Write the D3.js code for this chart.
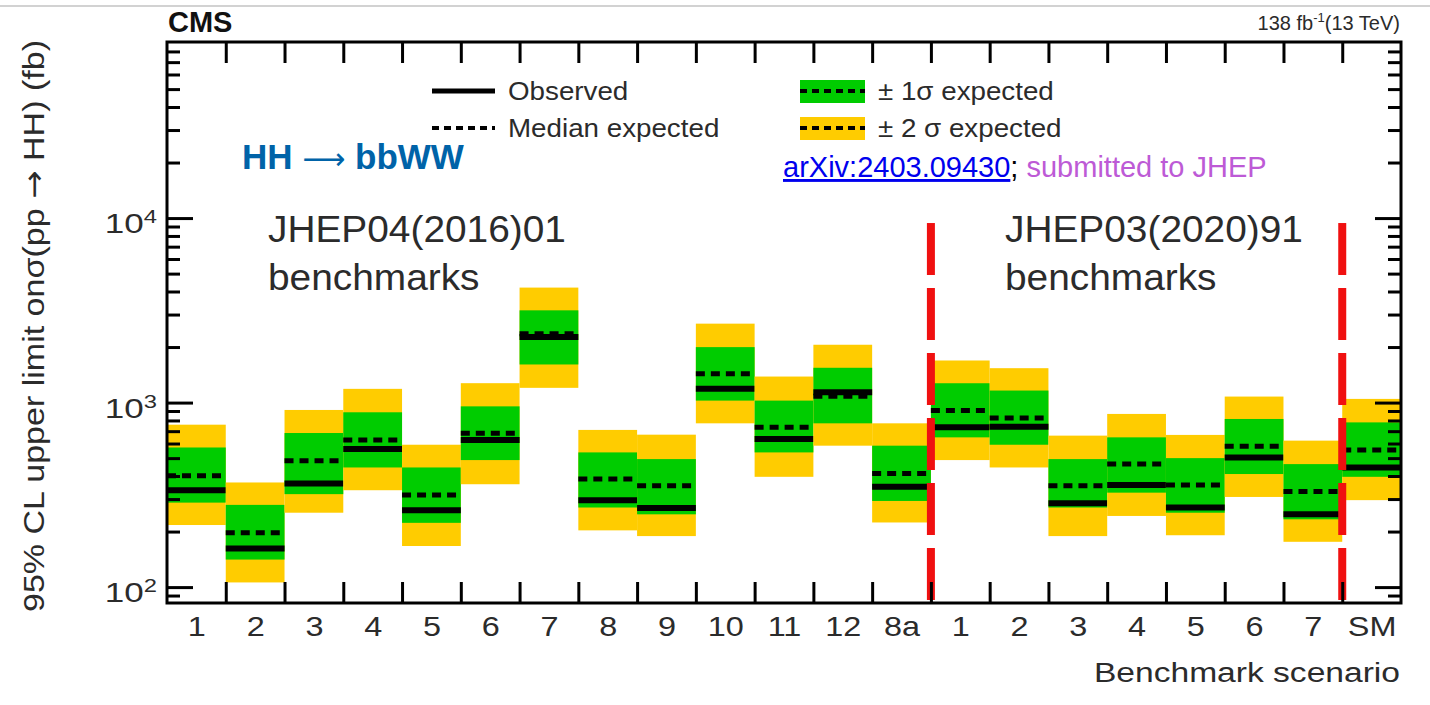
<!DOCTYPE html>
<html>
<head>
<meta charset="utf-8">
<script src="https://cdn.jsdelivr.net/npm/d3@7"></script>
<style>
  body { margin: 0; background: #fff; }
  svg { display: block; font-family: 'Liberation Sans', Arial, sans-serif; }
</style>
</head>
<body>
<div id="chart"></div>
<script>
// benchmark labels, left block = JHEP04(2016)01, right block = JHEP03(2020)91, then SM
const labels = ['1', '2', '3', '4', '5', '6', '7', '8', '9', '10', '11', '12', '8a',
  '1', '2', '3', '4', '5', '6', '7', 'SM'];
// 95% CL upper limits (fb)
const observed = [335, 162, 364, 560, 261, 627, 2264, 296, 268, 1187, 635, 1137, 350,
  734, 740, 285, 357, 270, 504, 248, 445];
const expected = [401, 197, 484, 627, 316, 681, 2362, 385, 354, 1432, 734, 1082, 413,
  905, 826, 354, 464, 358, 579, 330, 553];
const sigma1Lo = [287, 141, 319, 445, 223, 488, 1609, 270, 248, 1025, 537, 772, 293,
  648, 591, 270, 325, 253, 410, 233, 396];
const sigma1Hi = [571, 279, 684, 886, 445, 954, 3162, 537, 494, 1998, 1025, 1544, 584,
  1273, 1162, 494, 648, 500, 815, 464, 781];
const sigma2Lo = [217, 106, 253, 335, 167, 361, 1202, 203, 189, 772, 396, 584, 224,
  488, 445, 189, 243, 191, 308, 176, 296];
const sigma2Hi = [759, 369, 912, 1187, 591, 1274, 4200, 711, 670, 2678, 1384, 2058, 772,
  1691, 1536, 662, 868, 668, 1078, 622, 1047];
const yMajor = [100, 1000, 10000];
const yDomain = [82, 90000];
const dividers = [13, 20];   // bin edges with red dashed separators
const dividerTop = 9400;

const width = 1430;
const height = 705;
const plot = {left: 167, right: 1401, top: 42, bottom: 603};
const green = '#00cc00';
const yellow = '#ffcc00';
const textGrey = '#2b2b2b';
const arrowFont = 'DejaVu Sans, sans-serif';

const svg = d3.select('#chart')
    .append('svg')
    .attr('width', width)
    .attr('height', height);

// thin grey rule at the very top of the screenshot
svg.append('line')
    .attr('x1', 0).attr('x2', width)
    .attr('y1', 6).attr('y2', 6)
    .attr('stroke', '#d2d2d2')
    .attr('stroke-width', 2);

const x = d3.scaleLinear().domain([0, labels.length]).range([plot.left, plot.right]);
const y = d3.scaleLog().domain(yDomain).range([plot.bottom, plot.top]);

const minor = [];
[10, 100, 1000, 10000].forEach(dec => {
  for (let k = 2; k <= 9; k++) {
    const v = dec * k;
    if (v > yDomain[0] && v < yDomain[1]) minor.push(v);
  }
});

// bands
const bins = svg.append('g').selectAll('g')
    .data(labels.map((d, i) => i))
    .enter().append('g');

bins.append('rect')
    .attr('x', i => x(i))
    .attr('width', i => x(i + 1) - x(i))
    .attr('y', i => y(sigma2Hi[i]))
    .attr('height', i => y(sigma2Lo[i]) - y(sigma2Hi[i]))
    .attr('fill', yellow);

bins.append('rect')
    .attr('x', i => x(i))
    .attr('width', i => x(i + 1) - x(i))
    .attr('y', i => y(sigma1Hi[i]))
    .attr('height', i => y(sigma1Lo[i]) - y(sigma1Hi[i]))
    .attr('fill', green);

bins.append('line')
    .attr('x1', i => x(i)).attr('x2', i => x(i + 1))
    .attr('y1', i => y(expected[i])).attr('y2', i => y(expected[i]))
    .attr('stroke', '#000')
    .attr('stroke-width', 5)
    .attr('stroke-dasharray', '9,6');

bins.append('line')
    .attr('x1', i => x(i)).attr('x2', i => x(i + 1))
    .attr('y1', i => y(observed[i])).attr('y2', i => y(observed[i]))
    .attr('stroke', '#000')
    .attr('stroke-width', 6);

// red separators
svg.append('g').selectAll('line')
    .data(dividers)
    .enter().append('line')
    .attr('x1', d => x(d)).attr('x2', d => x(d))
    .attr('y1', y(dividerTop)).attr('y2', plot.bottom)
    .attr('stroke', '#f01010')
    .attr('stroke-width', 8)
    .attr('stroke-dasharray', '52,13');

// axes
const styleAxis = g => {
  g.select('.domain').remove();
  g.selectAll('.tick line').attr('stroke', '#000').attr('stroke-width', 3);
  g.selectAll('.tick text').remove();
};
const edges = d3.range(1, labels.length);

svg.append('g')
    .attr('transform', `translate(0,${plot.bottom})`)
    .call(d3.axisBottom(x).tickValues(edges).tickSize(-21).tickFormat(''))
    .call(styleAxis);
svg.append('g')
    .attr('transform', `translate(0,${plot.top})`)
    .call(d3.axisTop(x).tickValues(edges).tickSize(-21).tickFormat(''))
    .call(styleAxis);
svg.append('g')
    .attr('transform', `translate(${plot.left},0)`)
    .call(d3.axisLeft(y).tickValues(yMajor).tickSize(-26).tickFormat(''))
    .call(styleAxis);
svg.append('g')
    .attr('transform', `translate(${plot.left},0)`)
    .call(d3.axisLeft(y).tickValues(minor).tickSize(-13).tickFormat(''))
    .call(styleAxis);
svg.append('g')
    .attr('transform', `translate(${plot.right},0)`)
    .call(d3.axisRight(y).tickValues(yMajor).tickSize(-26).tickFormat(''))
    .call(styleAxis);
svg.append('g')
    .attr('transform', `translate(${plot.right},0)`)
    .call(d3.axisRight(y).tickValues(minor).tickSize(-13).tickFormat(''))
    .call(styleAxis);

svg.append('rect')
    .attr('x', plot.left).attr('y', plot.top)
    .attr('width', plot.right - plot.left)
    .attr('height', plot.bottom - plot.top)
    .attr('fill', 'none')
    .attr('stroke', '#000')
    .attr('stroke-width', 3);

// x labels, slightly wide like the source picture
const xLab = d3.axisBottom(x)
    .tickValues(labels.map((d, i) => i + 0.5))
    .tickSize(0)
    .tickFormat(v => labels[Math.floor(v)]);
const xg = svg.append('g')
    .attr('transform', `translate(0,${plot.bottom})`)
    .call(xLab);
xg.select('.domain').remove();
xg.selectAll('.tick text')
    .attr('y', 0).attr('dy', 0)
    .attr('transform', 'translate(0,33) scale(1.2,1)')
    .attr('font-size', 27)
    .attr('font-family', 'Liberation Sans, Arial, sans-serif')
    .attr('fill', textGrey);

// y labels 10^n
const yl = svg.append('g').selectAll('text')
    .data(yMajor)
    .enter().append('text')
    .attr('text-anchor', 'end')
    .attr('transform', d => `translate(157,${y(d) + 15}) scale(1.25,1)`)
    .attr('fill', textGrey)
    .attr('font-size', 28);
yl.append('tspan').text('10');
yl.append('tspan').attr('dy', -10).attr('font-size', 19).text(d => Math.round(Math.log10(d)));

const yTitle = svg.append('text')
    .attr('transform', 'translate(44,612) rotate(-90)')
    .attr('font-size', 30)
    .attr('fill', textGrey)
    .attr('textLength', 572)
    .attr('lengthAdjust', 'spacingAndGlyphs');
yTitle.append('tspan').text('95% CL upper limit onσ(pp ');
yTitle.append('tspan').attr('font-family', arrowFont).text('→');
yTitle.append('tspan').text(' HH) (fb)');

svg.append('text')
    .attr('text-anchor', 'end')
    .attr('transform', 'translate(1400,682) scale(1.2,1)')
    .attr('font-size', 28)
    .attr('fill', textGrey)
    .text('Benchmark scenario');

// header
svg.append('text')
    .attr('x', 168).attr('y', 32)
    .attr('font-size', 29)
    .attr('font-weight', 'bold')
    .attr('fill', '#111')
    .text('CMS');

const lumi = svg.append('text')
    .attr('text-anchor', 'end')
    .attr('x', 1400).attr('y', 30)
    .attr('font-size', 20)
    .attr('fill', textGrey);
lumi.append('tspan').text('138 fb');
lumi.append('tspan').attr('dy', -8).attr('font-size', 13).text('-1');
lumi.append('tspan').attr('dy', 8).text('(13 TeV)');

// legend
const leg = svg.append('g');
leg.append('line')
    .attr('x1', 432).attr('x2', 495).attr('y1', 91).attr('y2', 91)
    .attr('stroke', '#000').attr('stroke-width', 5);
leg.append('line')
    .attr('x1', 432).attr('x2', 495).attr('y1', 128).attr('y2', 128)
    .attr('stroke', '#000').attr('stroke-width', 4).attr('stroke-dasharray', '7,5');
leg.append('rect')
    .attr('x', 800).attr('y', 80).attr('width', 65).attr('height', 23)
    .attr('fill', green);
leg.append('rect')
    .attr('x', 800).attr('y', 117).attr('width', 65).attr('height', 23)
    .attr('fill', yellow);
[91, 128].forEach(yy => {
  leg.append('line')
      .attr('x1', 800).attr('x2', 865).attr('y1', yy).attr('y2', yy)
      .attr('stroke', '#000').attr('stroke-width', 4).attr('stroke-dasharray', '7,5');
});
const legText = [
  {x: 508, y: 100, t: 'Observed'},
  {x: 508, y: 137, t: 'Median expected'},
  {x: 878, y: 100, t: '± 1σ expected'},
  {x: 878, y: 137, t: '± 2 σ expected'}
];
leg.selectAll('text')
    .data(legText)
    .enter().append('text')
    .attr('transform', d => `translate(${d.x},${d.y}) scale(1.11,1)`)
    .attr('font-size', 25)
    .attr('fill', textGrey)
    .text(d => d.t);

const hh = svg.append('text')
    .attr('x', 242).attr('y', 169)
    .attr('font-size', 35)
    .attr('font-weight', 'bold')
    .attr('fill', '#0063a8');
hh.append('tspan').text('HH ');
hh.append('tspan').attr('font-family', arrowFont).attr('font-weight', 'normal')
    .attr('font-size', 30).text('⟶');
hh.append('tspan').attr('font-size', 35).text(' bbWW');

const ref = svg.append('text')
    .attr('x', 783).attr('y', 177)
    .attr('font-size', 29);
ref.append('tspan').attr('fill', '#0000ee').attr('text-decoration', 'underline').text('arXiv:2403.09430');
ref.append('tspan').attr('fill', '#000').text('; ');
ref.append('tspan').attr('fill', '#bd5ad6').text('submitted to JHEP');

// benchmark block titles
const blocks = [
  {x: 268, lines: ['JHEP04(2016)01', 'benchmarks']},
  {x: 1005, lines: ['JHEP03(2020)91', 'benchmarks']}
];
blocks.forEach(b => {
  b.lines.forEach((t, k) => {
    svg.append('text')
        .attr('transform', `translate(${b.x},${242 + k * 48}) scale(1.05,1)`)
        .attr('font-size', 37)
        .attr('fill', textGrey)
        .text(t);
  });
});
</script>
</body>
</html>
